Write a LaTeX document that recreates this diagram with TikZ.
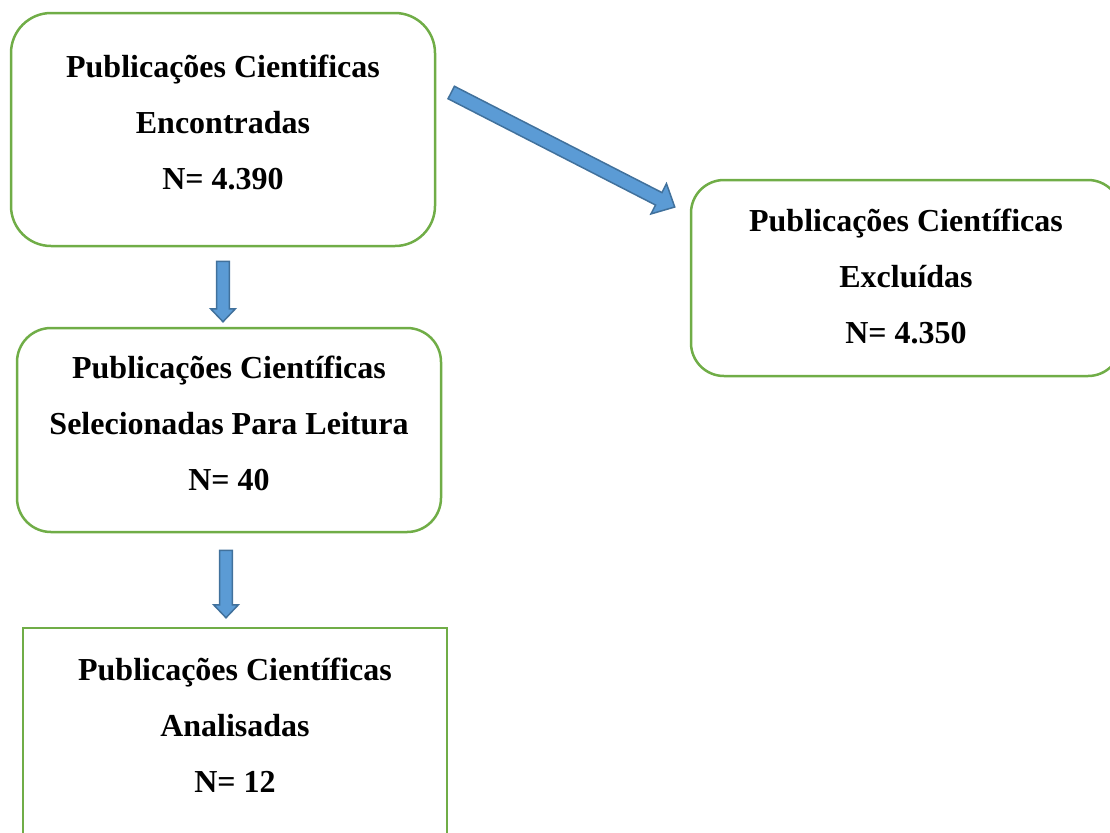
\documentclass[tikz,border=0pt]{standalone}
\usepackage{fontspec}
\setmainfont{Liberation Serif}
\usetikzlibrary{calc}

\definecolor{boxgreen}{RGB}{112,173,71}
\definecolor{arrowfill}{RGB}{91,155,213}
\definecolor{arrowline}{RGB}{65,113,156}

\tikzset{
  flowbox/.style = {draw=boxgreen, line width=1.25pt, align=center,
    font=\fontsize{16}{28}\selectfont\bfseries,
    minimum width=212pt, text depth=7pt},
  barrow/.style = {fill=arrowfill, draw=arrowline, line width=0.75pt}
}

% #1 half shaft, #2 half head, #3 head length, #4 from, #5 to
\newcommand{\blockarrow}[5]{%
  \coordinate (neck) at ($(#5)!#3!(#4)$);
  \draw[barrow] ($(#4)!#1!90:(#5)$) -- ($(neck)!#1!90:(#5)$)
    -- ($(neck)!#2!90:(#5)$) -- (#5) -- ($(neck)!#2!-90:(#5)$)
    -- ($(neck)!#1!-90:(#5)$) -- ($(#4)!#1!-90:(#5)$) -- cycle;
}

\begin{document}
\begin{tikzpicture}[x=0.5pt, y=-0.5pt]
  \useasboundingbox (0,0) rectangle (1110,832);
  \clip (0,0) rectangle (1110,832);

  \node[flowbox, rounded corners=20pt, minimum height=116.5pt] (enc) at (223,129.5)
    {Publicações Cientificas\\Encontradas\\N= 4.390};
  \node[flowbox, rounded corners=16.5pt, minimum width=215pt, minimum height=98pt,
    text depth=2pt] (excl) at (906,278)
    {Publicações Científicas\\Excluídas\\N= 4.350};
  \node[flowbox, rounded corners=17pt, minimum height=102pt] (sel) at (229,430)
    {Publicações Científicas\\Selecionadas Para Leitura\\N= 40};
  \node[flowbox, minimum height=104pt] (anal) at (235,732)
    {Publicações Científicas\\Analisadas\\N= 12};

  % arrow ends
  \coordinate (d1s) at ([yshift=-7pt]enc.south);
  \coordinate (d1e) at ([yshift=2.5pt]d1s |- sel.north);
  \coordinate (d2s) at ([xshift=-1.5pt,yshift=-8.5pt]sel.south);
  \coordinate (d2e) at ([yshift=4.5pt]d2s |- anal.north);
  \coordinate (xs) at ([xshift=7.5pt,yshift=18.5pt]enc.east);
  \coordinate (xe) at ([xshift=-7.5pt,yshift=35.5pt]excl.west);

  \blockarrow{3.2pt}{6.2pt}{6.5pt}{d1s}{d1e}
  \blockarrow{3.2pt}{6.2pt}{6.5pt}{d2s}{d2e}
  \blockarrow{3.5pt}{8.5pt}{9pt}{xs}{xe}
\end{tikzpicture}
\end{document}
